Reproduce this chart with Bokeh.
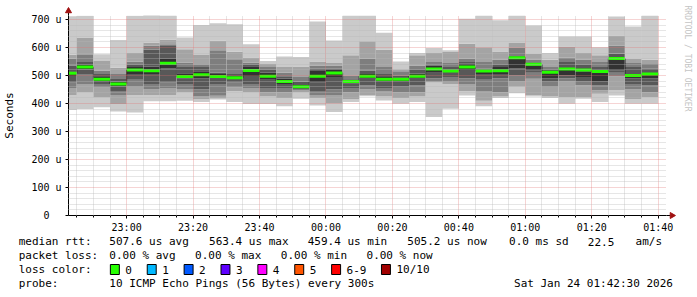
import math
from bokeh.plotting import figure
from bokeh.models import ColumnDataSource, FixedTicker, Range1d
from bokeh.core.properties import value
from bokeh.embed import file_html
from bokeh.resources import INLINE

# ---------------- data ----------------
slot_start = ["22:40", "22:45", "22:50", "22:55", "23:00", "23:05", "23:10", "23:15",
              "23:20", "23:25", "23:30", "23:35", "23:40", "23:45", "23:50", "23:55",
              "00:00", "00:05", "00:10", "00:15", "00:20", "00:25", "00:30", "00:35",
              "00:40", "00:45", "00:50", "00:55", "01:00", "01:05", "01:10", "01:15",
              "01:20", "01:25", "01:30", "01:35"]
step_minutes = 5

# ten pings per slot, sorted (microseconds)
ping1 = [377, 380, 387, 371, 368, 408, 408, 410, 405, 414, 405, 398, 398, 390, 417, 393, 370, 405,
         426, 411, 399, 405, 352, 381, 429, 390, 420, 437, 425, 420, 399, 417, 405, 429, 399, 399]
ping2 = [430, 440, 421, 398, 430, 430, 430, 440, 415, 418, 445, 440, 425, 420, 440, 420, 400, 415,
         430, 425, 420, 425, 475, 470, 445, 410, 425, 460, 430, 425, 423, 423, 435, 447, 415, 423]
ping3 = [455, 470, 457, 430, 460, 450, 455, 452, 425, 428, 458, 455, 440, 440, 448, 430, 430, 440,
         450, 445, 440, 440, 478, 478, 470, 445, 440, 480, 488, 460, 480, 465, 447, 497, 450, 440]
ping4 = [475, 505, 470, 445, 485, 470, 475, 470, 450, 470, 475, 470, 455, 455, 452, 445, 450, 455,
         465, 455, 460, 465, 490, 495, 490, 485, 490, 500, 510, 478, 490, 480, 465, 510, 470, 465]
ping5 = [498, 522, 480, 462, 505, 503, 525, 490, 490, 488, 485, 498, 485, 470, 456, 475, 495, 472,
         488, 480, 480, 488, 510, 510, 520, 505, 505, 525, 518, 490, 500, 495, 478, 518, 490, 490]
ping6 = [515, 540, 495, 478, 530, 531, 562, 508, 515, 505, 498, 533, 510, 488, 466, 519, 520, 486,
         505, 495, 494, 506, 536, 522, 542, 520, 530, 563, 535, 512, 520, 515, 510, 556, 505, 505]
ping7 = [535, 548, 505, 490, 540, 593, 605, 530, 530, 510, 505, 540, 520, 495, 478, 525, 525, 490,
         518, 505, 500, 520, 540, 530, 548, 525, 540, 570, 545, 520, 548, 540, 530, 578, 530, 525]
ping8 = [560, 573, 517, 505, 550, 607, 612, 546, 540, 590, 558, 546, 530, 510, 495, 535, 535, 500,
         560, 530, 515, 536, 548, 545, 560, 548, 556, 600, 556, 530, 563, 556, 548, 607, 545, 541]
ping9 = [574, 636, 552, 528, 580, 618, 628, 594, 573, 624, 585, 564, 541, 530, 532, 550, 545, 572,
         622, 592, 522, 572, 580, 584, 613, 601, 586, 616, 578, 556, 604, 580, 572, 643, 560, 556]
ping10 = [712, 713, 576, 627, 713, 716, 714, 636, 680, 687, 683, 612, 552, 568, 566, 693, 625, 714,
          714, 653, 550, 580, 598, 590, 703, 714, 697, 714, 679, 580, 639, 639, 601, 711, 675, 714]

median_rtt = [508, 530, 487, 470, 520, 517, 544, 496, 503, 496, 492, 518, 497, 479, 459.4, 497, 509, 479,
              497, 487, 487, 497, 523, 516, 530, 516, 517, 563.4, 540, 512, 523, 520, 514, 561, 500, 505.2]

x_ticks = ["23:00", "23:20", "23:40", "00:00", "00:20", "00:40", "01:00", "01:20", "01:40"]
y_ticks = [0, 100, 200, 300, 400, 500, 600, 700]
y_tick_labels = ["0\u00a0\u00a0", "100 u", "200 u", "300 u", "400 u", "500 u", "600 u", "700 u"]
view_start, view_end = "22:42:30", "01:42:30"
y_max = 714.3

line_rtt = ["median rtt:", "507.6 us avg", "563.4 us max", "459.4 us min", "505.2 us now",
            "0.0 ms sd", "22.5", "am/s"]
line_loss = ["packet loss:", "0.00 % avg", "0.00 % max", "0.00 % min", "0.00 % now"]
loss_title = "loss color:"
loss_labels = ["0", "1", "2", "3", "4", "5", "6-9", "10/10"]
loss_colors = ["#26ff00", "#00b8ff", "#0059ff", "#5e00ff", "#ff00ff", "#ff5500", "#ff0000", "#a10000"]
line_probe = ["probe:", "10 ICMP Echo Pings (56 Bytes) every 300s", "Sat Jan 24 01:42:30 2026"]
watermark = "RRDTOOL / TOBI OETIKER"


def to_min(s):
    parts = [int(v) for v in s.split(":")]
    h, m = parts[0], parts[1]
    sec = parts[2] if len(parts) > 2 else 0
    t = h * 60 + m + sec / 60.0 - 22 * 60
    if t < 0:
        t += 24 * 60
    return t


starts = [to_min(s) for s in slot_start]
ends = [s + step_minutes for s in starts]
x0, x1 = to_min(view_start), to_min(view_end)

W, H = 697, 297
FL, FT, FW, FH = 66, 15, 600, 200   # frame placement (px)
FONT = "DejaVu Sans Mono"

p = figure(width=W, height=H, output_backend="svg", toolbar_location=None,
           x_range=Range1d(x0, x1), y_range=Range1d(0, y_max),
           min_border_left=FL, min_border_right=W - FL - FW, min_border_top=FT,
           min_border_bottom=H - FT - FH)
p.outline_line_color = None
p.background_fill_color = "white"
p.border_fill_color = "white"
# pixel-based ranges for the legend area below the graph
p.extra_x_ranges = {"px": Range1d(FL, FL + FW)}
p.extra_y_ranges = {"py": Range1d(FT + FH, FT)}

# smoke
pings = [ping1, ping2, ping3, ping4, ping5, ping6, ping7, ping8, ping9, ping10]
n = len(pings)
half = n / 2
shades = []
for ibot in range(1, int(half) + 1):
    c = int(190 / half * (half - ibot)) + 50
    shades.append("#%02x%02x%02x" % (c, c, c))
L, R, B, T, C = [], [], [], [], []
for k in range(len(starts)):
    for j in range(n - 1):
        L.append(starts[k]); R.append(ends[k])
        B.append(pings[j][k]); T.append(pings[j + 1][k])
        C.append(shades[min(j, n - 2 - j)])
p.quad(left="left", right="right", bottom="bottom", top="top", color="color",
       source=ColumnDataSource(dict(left=L, right=R, bottom=B, top=T, color=C)), line_width=0)

# median step + green segments
p.step(x=starts + [ends[-1]], y=median_rtt + [median_rtt[-1]], mode="after",
       line_color="#202020", line_width=1)
p.segment(x0=starts, x1=ends, y0=median_rtt, y1=median_rtt, line_color=loss_colors[0], line_width=3)

# axes
xt = [to_min(s) for s in x_ticks]
p.xaxis.ticker = FixedTicker(ticks=xt, minor_ticks=[v for v in range(45, 225, 5) if v not in xt])
p.xaxis.major_label_overrides = {v: s for v, s in zip(xt, x_ticks)}
p.yaxis.ticker = FixedTicker(ticks=y_ticks, minor_ticks=[v for v in range(0, 720, 20) if v not in y_ticks])
p.yaxis.major_label_overrides = {v: s for v, s in zip(y_ticks, y_tick_labels)}
for ax in (p.xaxis[0], p.yaxis[0]):
    ax.axis_line_color = "black"
    ax.major_tick_line_color = "black"
    ax.minor_tick_line_color = "black"
    ax.major_tick_in = 0
    ax.minor_tick_in = 0
    ax.major_label_text_font = FONT
    ax.major_label_text_font_size = "10px"
    ax.major_label_text_color = "black"
p.xaxis.major_tick_out = 3
p.xaxis.minor_tick_out = 2
p.xaxis.major_label_standoff = 3
p.yaxis.major_tick_out = 3
p.yaxis.minor_tick_out = 0
p.yaxis.major_label_standoff = 4
p.yaxis.axis_label = "Seconds"
p.yaxis.axis_label_text_font = FONT
p.yaxis.axis_label_text_font_size = "11px"
p.yaxis.axis_label_text_font_style = "normal"
p.yaxis.axis_label_text_color = "black"
p.yaxis.axis_label_standoff = 12

for g in (p.xgrid[0], p.ygrid[0]):
    g.level = "overlay"
    g.grid_line_color = "#e07070"
    g.grid_line_alpha = 0.6
    g.grid_line_dash = "1 1"
    g.minor_grid_line_color = "#b8b8b8"
    g.minor_grid_line_alpha = 0.7
    g.minor_grid_line_dash = "1 1"

# axis arrows (overlay level, drawn outside the frame)
ax_px = (x1 - x0) / FW
ay_px = y_max / FH
arrow_col = "#a01010"
p.segment(x0=[x1], x1=[x1 + 4 * ax_px], y0=[0], y1=[0], line_color="black", line_width=1, level="overlay")
p.segment(x0=[x0], x1=[x0], y0=[y_max], y1=[y_max + 3 * ay_px], line_color="black", line_width=1,
          level="overlay")
p.scatter(x=[x1 + 5.5 * ax_px], y=[0], marker="triangle", angle=-math.pi / 2, size=6,
          fill_color=arrow_col, line_color=arrow_col, level="overlay")
p.scatter(x=[x0], y=[y_max + 4.5 * ay_px], marker="triangle", size=6,
          fill_color=arrow_col, line_color=arrow_col, level="overlay")

# ---------------- legend / comments below the graph ----------------
rows = [241, 255, 269, 283]
tx, ty, tt = [], [], []
for t, x in zip(line_rtt, [16, 107, 207, 306, 406, 508, 587, 635]):
    tx.append(x); ty.append(rows[0]); tt.append(t)
for t, x in zip(line_loss, [16, 107, 193, 279, 365]):
    tx.append(x); ty.append(rows[1]); tt.append(t)
tx.append(16); ty.append(rows[2]); tt.append(loss_title)
box_x = [108, 145, 182, 219, 256, 293, 330, 380]
for t, bx in zip(loss_labels, box_x):
    tx.append(bx + 15); ty.append(rows[2]); tt.append(t)
for t, x in zip(line_probe, [16, 107, 513]):
    tx.append(x); ty.append(rows[3]); tt.append(t)

p.text(x=tx, y=ty, text=tt, x_range_name="px", y_range_name="py", level="overlay",
       text_font=value(FONT), text_font_size="11px", text_color="black",
       text_baseline="middle", text_align="left")
p.quad(left=[b for b in box_x], right=[b + 9 for b in box_x],
       top=[rows[2] - 5] * len(box_x), bottom=[rows[2] + 5] * len(box_x),
       fill_color=loss_colors, line_color="black", line_width=1,
       x_range_name="px", y_range_name="py", level="overlay")

p.text(x=[687], y=[5], text=[watermark], x_range_name="px", y_range_name="py", level="overlay",
       text_font=value(FONT), text_font_size="8px", text_color="#c4c4c4",
       text_baseline="middle", text_align="left", angle=-math.pi / 2)

open("out.html", "w").write(file_html(p, INLINE))
